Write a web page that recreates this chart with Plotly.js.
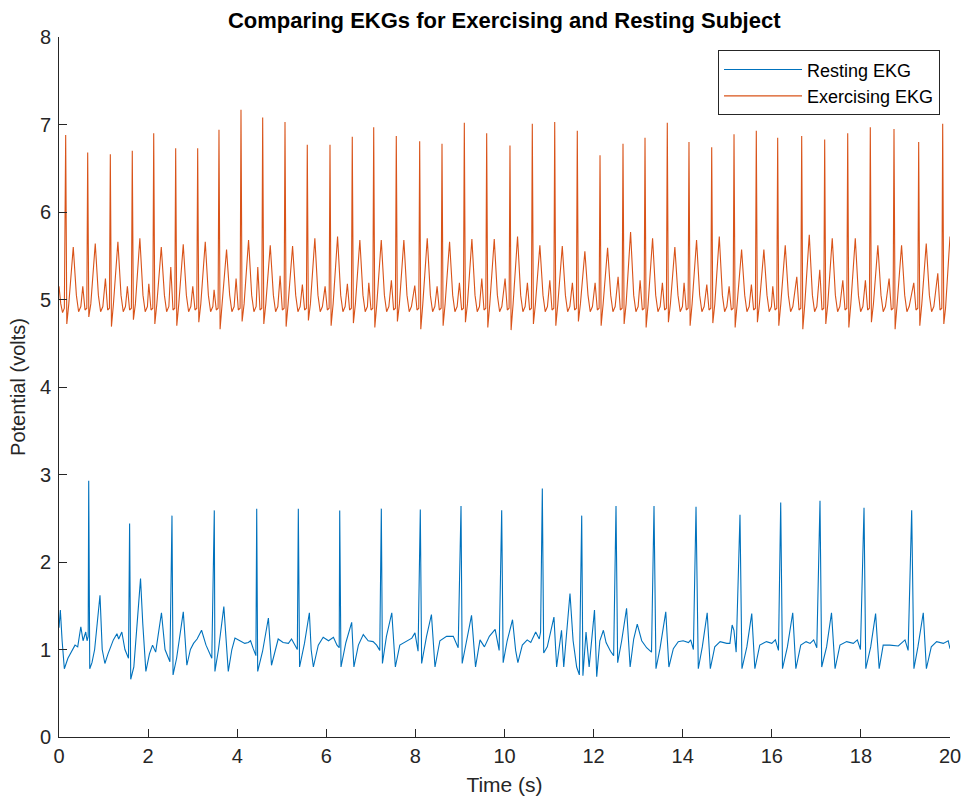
<!DOCTYPE html>
<html>
<head>
<meta charset="utf-8">
<script src="https://cdn.plot.ly/plotly-3.0.1.min.js"></script>
<style>html,body{margin:0;padding:0;background:#fff;}#chart{width:965px;height:799px;}</style>
</head>
<body>
<div id="chart"></div>
<script>
// Resting EKG (time in s, potential in volts)
const restTime = [
0.00,0.03,0.07,0.12,0.20,0.28,0.36,0.42,0.49,0.54,0.60,0.63,0.655,
0.667,0.69,0.74,0.80,0.92,0.97,1.03,1.10,1.22,1.30,1.34,1.41,1.48,1.56,
1.585,1.61,1.68,1.76,1.83,1.88,1.95,2.03,2.10,2.17,2.30,2.38,2.49,
2.536,2.56,2.64,2.79,2.87,2.95,3.02,3.10,3.20,3.30,3.43,
3.486,3.50,3.58,3.70,3.80,3.88,3.95,4.06,4.17,4.25,4.30,4.36,4.42,
4.438,4.46,4.57,4.70,4.77,4.85,4.92,5.03,5.15,5.22,5.30,5.35,
5.372,5.40,5.51,5.62,5.66,5.71,5.82,5.93,6.05,6.16,6.24,6.29,
6.301,6.33,6.44,6.57,6.62,6.72,6.83,6.94,7.05,7.13,7.20,
7.235,7.26,7.35,7.47,7.55,7.65,7.77,7.92,7.99,8.06,
8.110,8.14,8.25,8.36,8.44,8.55,8.70,8.85,8.96,
9.024,9.05,9.14,9.26,9.35,9.45,9.55,9.66,9.79,9.88,
9.937,9.97,10.06,10.18,10.25,10.30,10.40,10.51,10.59,10.70,10.78,10.81,
10.849,10.88,10.96,11.11,11.17,11.28,11.33,11.41,11.47,11.54,11.62,11.68,
11.733,11.76,11.83,11.90,12.02,12.07,12.14,12.22,12.28,12.38,12.45,
12.503,12.54,12.63,12.74,12.82,12.90,12.98,13.08,13.19,13.30,
13.356,13.40,13.49,13.62,13.69,13.79,13.90,14.01,14.13,14.18,14.24,
14.299,14.35,14.44,14.55,14.62,14.72,14.84,14.99,15.06,15.11,15.15,15.20,
15.286,15.33,15.44,15.55,15.62,15.73,15.88,16.00,16.08,16.15,
16.200,16.24,16.35,16.47,16.54,16.65,16.77,16.86,16.94,17.01,
17.082,17.12,17.23,17.34,17.42,17.53,17.68,17.83,17.92,17.99,
18.070,18.11,18.22,18.33,18.41,18.50,18.65,18.84,18.99,19.06,
19.140,19.19,19.28,19.40,19.47,19.58,19.70,19.85,19.96,20.00
];
const restVolts = [
1.25,1.45,1.10,0.78,0.90,0.98,1.05,1.03,1.26,1.10,1.20,1.10,1.15,
2.93,0.78,0.85,1.00,1.62,1.00,0.84,0.95,1.11,1.18,1.12,1.20,1.00,0.90,
2.44,0.66,0.80,1.40,1.81,1.30,0.75,0.95,1.05,0.97,1.42,1.00,0.86,
2.53,0.71,0.90,1.43,0.82,1.00,1.07,1.12,1.22,1.05,0.90,
2.59,0.75,1.00,1.49,0.75,1.00,1.13,1.10,1.07,1.08,1.10,1.01,0.93,
2.61,0.75,0.98,1.36,0.82,1.00,1.12,1.08,1.07,1.12,1.04,1.00,
2.61,0.80,1.07,1.42,1.00,0.80,1.05,1.14,1.10,1.14,1.05,1.02,
2.59,0.80,1.08,1.31,0.80,1.05,1.17,1.10,1.09,1.05,0.99,
2.61,0.84,1.15,1.42,0.80,1.05,1.09,1.13,1.19,0.98,
2.60,0.84,1.15,1.40,0.80,1.10,1.15,1.15,1.02,
2.64,0.84,1.07,1.39,0.80,1.11,1.03,1.15,1.23,0.99,
2.59,0.85,1.10,1.34,0.99,0.85,1.05,1.11,1.08,1.20,1.12,1.20,
2.84,0.96,1.03,1.37,0.80,1.22,0.80,1.25,1.64,1.10,0.80,0.71,
2.53,0.70,1.20,0.80,1.45,0.69,1.10,1.22,1.08,0.98,0.93,
2.64,0.85,1.10,1.47,0.80,1.12,1.29,1.10,1.02,0.97,
2.64,0.78,1.01,1.43,0.80,1.01,1.09,1.10,1.08,1.11,1.00,
2.63,0.78,1.03,1.42,0.78,1.03,1.09,1.07,1.07,1.28,1.22,0.97,
2.54,0.78,1.03,1.41,0.78,1.05,1.09,1.07,1.11,0.99,
2.68,0.78,1.03,1.42,0.78,1.05,1.09,1.07,1.11,1.02,
2.70,0.80,1.03,1.42,0.78,1.05,1.09,1.07,1.11,1.00,
2.62,0.78,1.03,1.41,0.78,1.05,1.05,1.04,1.11,0.99,
2.59,0.78,1.03,1.42,0.78,1.03,1.09,1.07,1.10,1.01
];

// Exercising EKG (time in s, potential in volts)
const exerciseTime = [
0.000,0.040,0.080,0.120,
0.150,0.175,0.220,0.320,0.390,0.440,0.490,0.534,0.584,0.624,
0.644,0.669,0.714,0.814,0.884,0.934,0.984,1.042,1.092,1.132,
1.152,1.177,1.222,1.322,1.392,1.442,1.492,1.535,1.585,1.625,
1.645,1.670,1.715,1.815,1.885,1.935,1.985,2.016,2.066,2.106,
2.126,2.151,2.196,2.296,2.366,2.416,2.466,2.509,2.559,2.599,
2.619,2.644,2.689,2.789,2.859,2.909,2.959,3.003,3.053,3.093,
3.113,3.138,3.183,3.283,3.353,3.403,3.453,3.481,3.531,3.571,
3.591,3.616,3.661,3.761,3.831,3.881,3.931,3.975,4.025,4.065,
4.085,4.110,4.155,4.255,4.325,4.375,4.425,4.462,4.512,4.552,
4.572,4.597,4.642,4.742,4.812,4.862,4.912,4.963,5.013,5.053,
5.073,5.098,5.143,5.243,5.313,5.363,5.413,5.463,5.513,5.553,
5.573,5.598,5.643,5.743,5.813,5.863,5.913,5.973,6.023,6.063,
6.083,6.108,6.153,6.253,6.323,6.373,6.423,6.473,6.523,6.563,
6.583,6.608,6.653,6.753,6.823,6.873,6.923,6.954,7.004,7.044,
7.064,7.089,7.134,7.234,7.304,7.354,7.404,7.461,7.511,7.551,
7.571,7.596,7.641,7.741,7.811,7.861,7.911,7.986,8.036,8.076,
8.096,8.121,8.166,8.266,8.336,8.386,8.436,8.487,8.537,8.577,
8.597,8.622,8.667,8.767,8.837,8.887,8.937,8.988,9.038,9.078,
9.098,9.123,9.168,9.268,9.338,9.388,9.438,9.490,9.540,9.580,
9.600,9.625,9.670,9.770,9.840,9.890,9.940,10.013,10.063,10.103,
10.123,10.148,10.193,10.293,10.363,10.413,10.463,10.514,10.564,10.604,
10.624,10.649,10.694,10.794,10.864,10.914,10.964,11.017,11.067,11.107,
11.127,11.152,11.197,11.297,11.367,11.417,11.467,11.524,11.574,11.614,
11.634,11.659,11.704,11.804,11.874,11.924,11.974,12.034,12.084,12.124,
12.144,12.169,12.214,12.314,12.384,12.434,12.484,12.550,12.600,12.640,
12.660,12.685,12.730,12.830,12.900,12.950,13.000,13.044,13.094,13.134,
13.154,13.179,13.224,13.324,13.394,13.444,13.494,13.544,13.594,13.634,
13.654,13.679,13.724,13.824,13.894,13.944,13.994,14.031,14.081,14.121,
14.141,14.166,14.211,14.311,14.381,14.431,14.481,14.541,14.591,14.631,
14.651,14.676,14.721,14.821,14.891,14.941,14.991,15.042,15.092,15.132,
15.152,15.177,15.222,15.322,15.392,15.442,15.492,15.542,15.592,15.632,
15.652,15.677,15.722,15.822,15.892,15.942,15.992,16.022,16.072,16.112,
16.132,16.157,16.202,16.302,16.372,16.422,16.472,16.561,16.611,16.651,
16.671,16.696,16.741,16.841,16.911,16.961,17.011,17.077,17.127,17.167,
17.187,17.212,17.257,17.357,17.427,17.477,17.527,17.594,17.644,17.684,
17.704,17.729,17.774,17.874,17.944,17.994,18.044,18.101,18.151,18.191,
18.211,18.236,18.281,18.381,18.451,18.501,18.551,18.633,18.683,18.723,
18.743,18.768,18.813,18.913,18.983,19.033,19.083,19.187,19.237,19.277,
19.297,19.322,19.367,19.467,19.537,19.587,19.637,19.726,19.776,19.816,
19.836,19.861,19.900,19.960,20.000
];
const exerciseVolts = [
5.15,4.95,4.85,4.90,
6.88,4.72,4.95,5.60,5.05,4.86,4.92,5.15,4.88,4.90,
6.68,4.80,4.95,5.64,5.05,4.86,4.92,5.24,4.88,4.90,
6.66,4.69,4.95,5.66,5.05,4.86,4.92,5.15,4.88,4.90,
6.70,4.77,4.95,5.70,5.05,4.86,4.92,5.18,4.88,4.90,
6.90,4.72,4.95,5.60,5.05,4.86,4.92,5.37,4.88,4.90,
6.73,4.70,4.95,5.63,5.05,4.86,4.92,5.15,4.88,4.90,
6.73,4.74,4.95,5.66,5.05,4.86,4.92,5.11,4.88,4.90,
6.94,4.66,4.95,5.57,5.05,4.86,4.92,5.24,4.88,4.90,
7.17,4.75,4.95,5.68,5.05,4.86,4.92,5.37,4.88,4.90,
7.08,4.72,4.95,5.62,5.05,4.86,4.92,5.27,4.88,4.90,
7.03,4.69,4.95,5.61,5.05,4.86,4.92,5.17,4.88,4.90,
6.77,4.76,4.95,5.70,5.05,4.86,4.92,5.15,4.88,4.90,
6.77,4.70,4.95,5.72,5.05,4.86,4.92,5.18,4.88,4.90,
6.86,4.73,4.95,5.68,5.05,4.86,4.92,5.19,4.88,4.90,
6.97,4.68,4.95,5.68,5.05,4.86,4.92,5.22,4.88,4.90,
6.87,4.75,4.95,5.68,5.05,4.86,4.92,5.16,4.88,4.90,
6.81,4.66,4.95,5.70,5.05,4.86,4.92,5.15,4.88,4.90,
6.78,4.70,4.95,5.66,5.05,4.86,4.92,5.19,4.88,4.90,
7.02,4.74,4.95,5.69,5.05,4.86,4.92,5.24,4.88,4.90,
6.90,4.68,4.95,5.69,5.05,4.86,4.92,5.24,4.88,4.90,
6.76,4.65,4.95,5.72,5.05,4.86,4.92,5.19,4.88,4.90,
7.01,4.72,4.95,5.62,5.05,4.86,4.92,5.22,4.88,4.90,
7.03,4.70,4.95,5.61,5.05,4.86,4.92,5.19,4.88,4.90,
6.93,4.75,4.95,5.55,5.05,4.86,4.92,5.19,4.88,4.90,
6.65,4.70,4.95,5.59,5.05,4.86,4.92,5.26,4.88,4.90,
6.78,4.72,4.95,5.77,5.05,4.86,4.92,5.22,4.88,4.90,
6.85,4.68,4.95,5.70,5.05,4.86,4.92,5.19,4.88,4.90,
7.02,4.74,4.95,5.60,5.05,4.86,4.92,5.19,4.88,4.90,
6.80,4.70,4.95,5.68,5.05,4.86,4.92,5.17,4.88,4.90,
6.74,4.73,4.95,5.72,5.05,4.86,4.92,5.15,4.88,4.90,
6.89,4.68,4.95,5.57,5.05,4.86,4.92,5.17,4.88,4.90,
6.93,4.74,4.95,5.57,5.05,4.86,4.92,5.15,4.88,4.90,
6.85,4.70,4.95,5.62,5.05,4.86,4.92,5.26,4.88,4.90,
6.87,4.66,4.95,5.74,5.05,4.86,4.92,5.34,4.88,4.90,
6.83,4.72,4.95,5.70,5.05,4.86,4.92,5.22,4.88,4.90,
6.90,4.68,4.95,5.70,5.05,4.86,4.92,5.22,4.88,4.90,
6.97,4.74,4.95,5.62,5.05,4.86,4.92,5.24,4.88,4.90,
6.95,4.66,4.95,5.62,5.05,4.86,4.92,5.19,4.88,4.90,
6.80,4.70,4.95,5.64,5.05,4.86,4.92,5.30,4.88,4.90,
7.01,4.72,4.90,5.40,5.72
];

const seriesNames = ["Resting EKG", "Exercising EKG"];
const xTickValues = [0,2,4,6,8,10,12,14,16,18,20];
const yTickValues = [0,1,2,3,4,5,6,7,8];

const axisColor = "#262626";
const font = "Liberation Sans, Arial, Helvetica, sans-serif";

const traces = [
  {x: restTime, y: restVolts, name: seriesNames[0], type: "scatter", mode: "lines",
   line: {color: "#0072BD", width: 1.1}},
  {x: exerciseTime, y: exerciseVolts, name: seriesNames[1], type: "scatter", mode: "lines",
   line: {color: "#D95319", width: 1.1}}
];

const layout = {
  width: 965, height: 799,
  margin: {l: 59, r: 15, t: 37, b: 62},
  paper_bgcolor: "#fff", plot_bgcolor: "#fff",
  font: {family: font, color: axisColor, size: 19},
  title: {text: "<b>Comparing EKGs for Exercising and Resting Subject</b>",
          font: {family: font, size: 22, color: "#000"},
          x: 0.5225, xanchor: "center", y: 0.975, yanchor: "middle"},
  xaxis: {range: [0, 20], tickvals: xTickValues, ticks: "inside", ticklen: 8,
          tickcolor: axisColor, showline: true, linecolor: axisColor, linewidth: 1,
          showgrid: false, zeroline: false, mirror: false,
          tickfont: {size: 20, color: axisColor}, ticklabelstandoff: 1,
          title: {text: "Time (s)", font: {size: 21, color: axisColor}, standoff: 11}},
  yaxis: {range: [0, 8], tickvals: yTickValues, ticks: "inside", ticklen: 8,
          tickcolor: axisColor, showline: true, linecolor: axisColor, linewidth: 1,
          showgrid: false, zeroline: false, mirror: false,
          tickfont: {size: 20, color: axisColor}, ticklabelstandoff: 3,
          title: {text: "Potential (volts)", font: {size: 20, color: axisColor}, standoff: 8}},
  showlegend: true,
  legend: {x: 0.9888, xanchor: "right", y: 0.981, yanchor: "top",
           bgcolor: "#fff", bordercolor: axisColor, borderwidth: 1,
           font: {size: 18, color: "#000"}, itemwidth: 78, tracegroupgap: 0}
};

Plotly.newPlot("chart", traces, layout, {staticPlot: true, displayModeBar: false});
</script>
</body>
</html>
